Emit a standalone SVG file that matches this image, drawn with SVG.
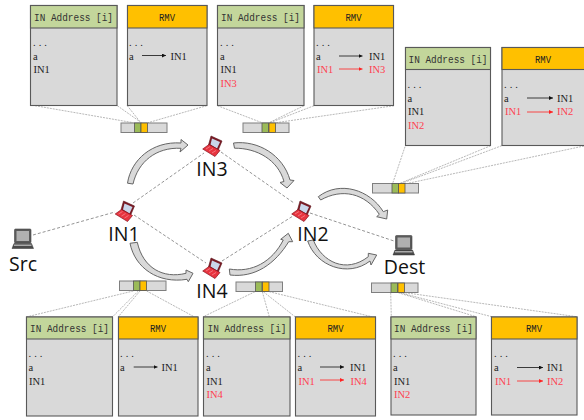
<svg xmlns="http://www.w3.org/2000/svg" width="584" height="420" viewBox="0 0 584 420">
<style>
.body{fill:#d9d9d9;stroke:#595959;stroke-width:1.1}
.hg{fill:#c3d69b;stroke:#595959;stroke-width:1.1}
.ho{fill:#ffc000;stroke:#595959;stroke-width:1.1}
text{font-family:"Liberation Serif","DejaVu Serif",serif;font-size:10.5px;fill:#222}
.r{fill:#ff4050}
.d{letter-spacing:3px}
.h{font-family:"Liberation Mono","DejaVu Sans Mono",monospace;font-size:10.5px;text-anchor:middle;fill:#333}
.v{font-family:"Liberation Mono","DejaVu Sans Mono",monospace;font-size:10.5px;text-anchor:middle;fill:#222}
.big{font-family:"Open Sans","Noto Sans",sans-serif;font-size:19.5px;fill:#111;text-anchor:middle}
.dash{stroke:#666;stroke-width:.7;stroke-dasharray:3 2;fill:none}
.dot{stroke:#888;stroke-width:.6;stroke-dasharray:2 1;fill:none}
.ar{stroke:#111;stroke-width:.8;fill:none;marker-end:url(#mk)}
.arr{stroke:#f22;stroke-width:.8;fill:none;marker-end:url(#mkr)}
.block{fill:#d9d9d9;stroke:#666;stroke-width:1;stroke-linejoin:miter}
.bar{fill:#d9d9d9;stroke:#7f7f7f;stroke-width:1}
.g{fill:#9bbb59;stroke:#555;stroke-width:.8}
.o{fill:#ffc000;stroke:#555;stroke-width:.8}
</style>
<defs>
<marker id="mk" markerUnits="userSpaceOnUse" markerWidth="5" markerHeight="4" refX="4" refY="2" orient="auto"><path d="M0,0L4,2L0,4Z" fill="#111"/></marker>
<marker id="mkr" markerUnits="userSpaceOnUse" markerWidth="5" markerHeight="4" refX="4" refY="2" orient="auto"><path d="M0,0L4,2L0,4Z" fill="#f22"/></marker>
<g id="red">
<path d="M211,136L222,141L218,150.5L208.5,145Z" fill="#7a1a24" stroke="#5a1018" stroke-width=".6"/>
<path d="M212,138.5L220,142L217,148.5L210.5,144.5Z" fill="#c9d6ea"/>
<path d="M202.7,149L209,144.5L220,150.5L215,156.5Z" fill="#e8343f" stroke="#8a1420" stroke-width=".7"/>
<path d="M206,149L210,146.5M209,151L213,148.5M212,153L216,150.5" stroke="#f9a0a8" stroke-width=".6" fill="none"/>
</g>
<g id="blk">
<rect x="14.5" y="229" width="16.5" height="14" rx="1" fill="#5a5a5a" stroke="#444" stroke-width=".6"/>
<rect x="16.5" y="231" width="12.5" height="10" fill="#b0b0b0"/>
<path d="M14,243.5H31.5L33.5,248.5H12Z" fill="#4a4a4a" stroke="#333" stroke-width=".5"/>
<rect x="14" y="244.5" width="17.5" height="1.5" fill="#aaa"/>
</g>
</defs>

<g id="connectors">
<path class="dash" d="M33,235L115,212M133,203L204,153M221,152L294,203M134,215L206,263M222,261L293,216M310,213L394,241"/>
<path class="dot" d="M35,105.7L133.3,122.7M117.3,105.7L140,121.7M127.3,105.7L140,121.7M206.7,105.7L148,122.7"/>
<path class="dot" d="M217.5,105.7L262,122.7M304,105.7L269,122.7M314,105.7L270,122.7M394,105.7L276,122.7"/>
<path class="dot" d="M405,146.7L392.7,183.3M490.7,145.7L400,183.3M501.7,145.7L401.7,183.3M584,146L408,183.3"/>
<path class="dot" d="M133.3,291L27.3,316.7M138.3,291L112.7,316.7M140,291L118.3,316.7M146.7,291L194,316.7"/>
<path class="dot" d="M255,291.7L203.3,316.7M262.3,291.7L269.3,316.7M263.3,291.7L295,316.7M269.3,291.7L371.7,316.7"/>
<path class="dot" d="M390.7,292.7L391.3,316.7M398.3,292.7L476,316.7M400,292.7L491.7,316.7M405,292.7L576.7,316.7"/>
<path class="block" d="M127.5,183.2C131,160 152,141 181,143L181,139.5L188,145L180,152L181,148.3C156,147 138,162 133,184Z"/>
<path class="block" d="M233.5,143C258,140 283,155 290,180L294,180.5L287,188L280,182.5L284,181.5C278,160 257,148 234.5,148.2Z"/>
<path class="block" d="M130,243.3C135,268 158,284 187,279.3L188.3,281.7L193,273.3L186,270L186,273.3C163,279 143,268 137.3,242.3Z"/>
<path class="block" d="M230,275C255,278 275,264 288.7,241.7L292.7,241.7L288.3,233.3L280.7,239.3L283.3,240C272,262 252,273 229.3,269Z"/>
<path class="block" d="M307.7,241C316,266 348,278 370,261L371,265L376.7,255L368.3,253.3L368.3,256.7C346,274 322,262 313.3,240Z"/>
<path class="block" d="M318.3,196.7C340,180 370,190 383.3,211.7L387.7,210L386.7,219L376.7,216.7L379.3,214.3C365,193 342,188 320.7,200Z"/>
</g>

<g id="src"><use href="#blk"/><text class="big" x="23" y="271">Src</text></g>
<g id="dest"><use href="#blk" transform="translate(381,6.5)"/><text class="big" x="404.5" y="274">Dest</text></g>
<g id="in1"><use href="#red" transform="translate(-87.5,65)"/><text class="big" x="124" y="241">IN1</text></g>
<g id="in2"><use href="#red" transform="translate(89,65)"/><text class="big" x="313" y="241">IN2</text></g>
<g id="in3"><use href="#red"/><text class="big" x="212" y="176">IN3</text></g>
<g id="in4"><use href="#red" transform="translate(0,122)"/><text class="big" x="212" y="298">IN4</text></g>

<g id="bar-top1"><rect class="bar" x="121" y="123" width="46" height="9.5"/><rect class="g" x="134.5" y="123" width="6.5" height="9.5"/><rect class="o" x="141" y="123" width="6.5" height="9.5"/></g>
<g id="bar-top2"><rect class="bar" x="243" y="123" width="46" height="9.5"/><rect class="g" x="262" y="123" width="6.5" height="9.5"/><rect class="o" x="269" y="123" width="6.5" height="9.5"/></g>
<g id="bar-right"><rect class="bar" x="372.5" y="183.5" width="46" height="9.5"/><rect class="g" x="392" y="183.5" width="6.5" height="9.5"/><rect class="o" x="398.5" y="183.5" width="6.5" height="9.5"/></g>
<g id="bar-bot1"><rect class="bar" x="119.5" y="281" width="46.5" height="9.5"/><rect class="g" x="133.5" y="281" width="6.5" height="9.5"/><rect class="o" x="140" y="281" width="6.5" height="9.5"/></g>
<g id="bar-bot2"><rect class="bar" x="236" y="282" width="46.5" height="9.5"/><rect class="g" x="255.5" y="282" width="6.5" height="9.5"/><rect class="o" x="262.5" y="282" width="6.5" height="9.5"/></g>
<g id="bar-bot3"><rect class="bar" x="371.5" y="283" width="46.5" height="9.5"/><rect class="g" x="391" y="283" width="6.5" height="9.5"/><rect class="o" x="398" y="283" width="6.5" height="9.5"/></g>

<g id="addr-top1"><rect class="body" x="30.5" y="5.5" width="86.5" height="100"/><rect class="hg" x="30.5" y="5.5" width="86.5" height="22.5"/><text class="h" x="73.5" y="20.5" textLength="79" lengthAdjust="spacingAndGlyphs">IN Address [i]</text><text class="d" x="33" y="46">...</text><text x="33" y="60">a</text><text x="33.5" y="73">IN1</text></g>
<g id="rmv-top1"><rect class="body" x="127.5" y="5.5" width="79.5" height="100"/><rect class="ho" x="127.5" y="5.5" width="79.5" height="22.5"/><text class="v" x="167" y="20.5" textLength="16" lengthAdjust="spacingAndGlyphs">RMV</text><text class="d" x="129" y="46">...</text><text x="129" y="60">a</text><path class="ar" d="M142,55.5H166"/><text x="170.5" y="60">IN1</text></g>

<g id="addr-top2"><rect class="body" x="217.5" y="5.5" width="86.5" height="100"/><rect class="hg" x="217.5" y="5.5" width="86.5" height="22.5"/><text class="h" x="260.5" y="20.5" textLength="79" lengthAdjust="spacingAndGlyphs">IN Address [i]</text><text class="d" x="220" y="46">...</text><text x="220" y="60">a</text><text x="220.5" y="73">IN1</text><text class="r" x="220.5" y="87">IN3</text></g>
<g id="rmv-top2"><rect class="body" x="314" y="5.5" width="79.5" height="100"/><rect class="ho" x="314" y="5.5" width="79.5" height="22.5"/><text class="v" x="353.5" y="20.5" textLength="16" lengthAdjust="spacingAndGlyphs">RMV</text><text class="d" x="316" y="46">...</text><text x="316" y="60">a</text><path class="ar" d="M339,56H362.5"/><text x="369" y="60">IN1</text><text class="r" x="317" y="73">IN1</text><path class="arr" d="M339,69H362.5"/><text class="r" x="369" y="73">IN3</text></g>

<g id="addr-right"><rect class="body" x="405.5" y="47.5" width="85" height="98"/><rect class="hg" x="405.5" y="47.5" width="85" height="22"/><text class="h" x="448" y="62.5" textLength="79" lengthAdjust="spacingAndGlyphs">IN Address [i]</text><text class="d" x="407.5" y="88">...</text><text x="407.5" y="102">a</text><text x="408" y="115">IN1</text><text class="r" x="408" y="129">IN2</text></g>
<g id="rmv-right"><rect class="body" x="502" y="47.5" width="84" height="98"/><rect class="ho" x="502" y="47.5" width="84" height="22"/><text class="v" x="543" y="62.5" textLength="16" lengthAdjust="spacingAndGlyphs">RMV</text><text class="d" x="504" y="88">...</text><text x="504" y="102">a</text><path class="ar" d="M527,98H553"/><text x="557" y="102">IN1</text><text class="r" x="505" y="115">IN1</text><path class="arr" d="M527,112H553"/><text class="r" x="557" y="115">IN2</text></g>

<g id="addr-bot1"><rect class="body" x="26.5" y="317" width="86" height="99"/><rect class="hg" x="26.5" y="317" width="86" height="22"/><text class="h" x="69.5" y="331.5" textLength="79" lengthAdjust="spacingAndGlyphs">IN Address [i]</text><text class="d" x="28.5" y="357">...</text><text x="28.5" y="371">a</text><text x="29" y="384.5">IN1</text></g>
<g id="rmv-bot1"><rect class="body" x="118.5" y="317" width="79.5" height="99"/><rect class="ho" x="118.5" y="317" width="79.5" height="22"/><text class="v" x="158" y="331.5" textLength="16" lengthAdjust="spacingAndGlyphs">RMV</text><text class="d" x="120" y="357">...</text><text x="120" y="371">a</text><path class="ar" d="M133.7,367H157.5"/><text x="161.5" y="371">IN1</text></g>

<g id="addr-bot2"><rect class="body" x="203.5" y="317" width="86.5" height="99"/><rect class="hg" x="203.5" y="317" width="86.5" height="22"/><text class="h" x="247" y="331.5" textLength="79" lengthAdjust="spacingAndGlyphs">IN Address [i]</text><text class="d" x="206" y="357">...</text><text x="206" y="371">a</text><text x="206.5" y="384.5">IN1</text><text class="r" x="206.5" y="398">IN4</text></g>
<g id="rmv-bot2"><rect class="body" x="295.5" y="317" width="80" height="99"/><rect class="ho" x="295.5" y="317" width="80" height="22"/><text class="v" x="335.5" y="331.5" textLength="16" lengthAdjust="spacingAndGlyphs">RMV</text><text class="d" x="297.5" y="357">...</text><text x="297.5" y="371">a</text><path class="ar" d="M320,367H344"/><text x="350" y="371">IN1</text><text class="r" x="298.5" y="384.5">IN1</text><path class="arr" d="M320,380H344"/><text class="r" x="350.5" y="384.5">IN4</text></g>

<g id="addr-bot3"><rect class="body" x="391" y="317" width="85" height="98"/><rect class="hg" x="391" y="317" width="85" height="22"/><text class="h" x="433.5" y="331.5" textLength="79" lengthAdjust="spacingAndGlyphs">IN Address [i]</text><text class="d" x="393" y="357">...</text><text x="393" y="371">a</text><text x="394" y="384.5">IN1</text><text class="r" x="394" y="398">IN2</text></g>
<g id="rmv-bot3"><rect class="body" x="491.5" y="317" width="85.5" height="98"/><rect class="ho" x="491.5" y="317" width="85.5" height="22"/><text class="v" x="534" y="331.5" textLength="16" lengthAdjust="spacingAndGlyphs">RMV</text><text class="d" x="494" y="357">...</text><text x="494" y="371">a</text><path class="ar" d="M517,367.5H543"/><text x="547" y="371">IN1</text><text class="r" x="495" y="384.5">IN1</text><path class="arr" d="M517,381H543"/><text class="r" x="547" y="384.5">IN2</text></g>
</svg>
